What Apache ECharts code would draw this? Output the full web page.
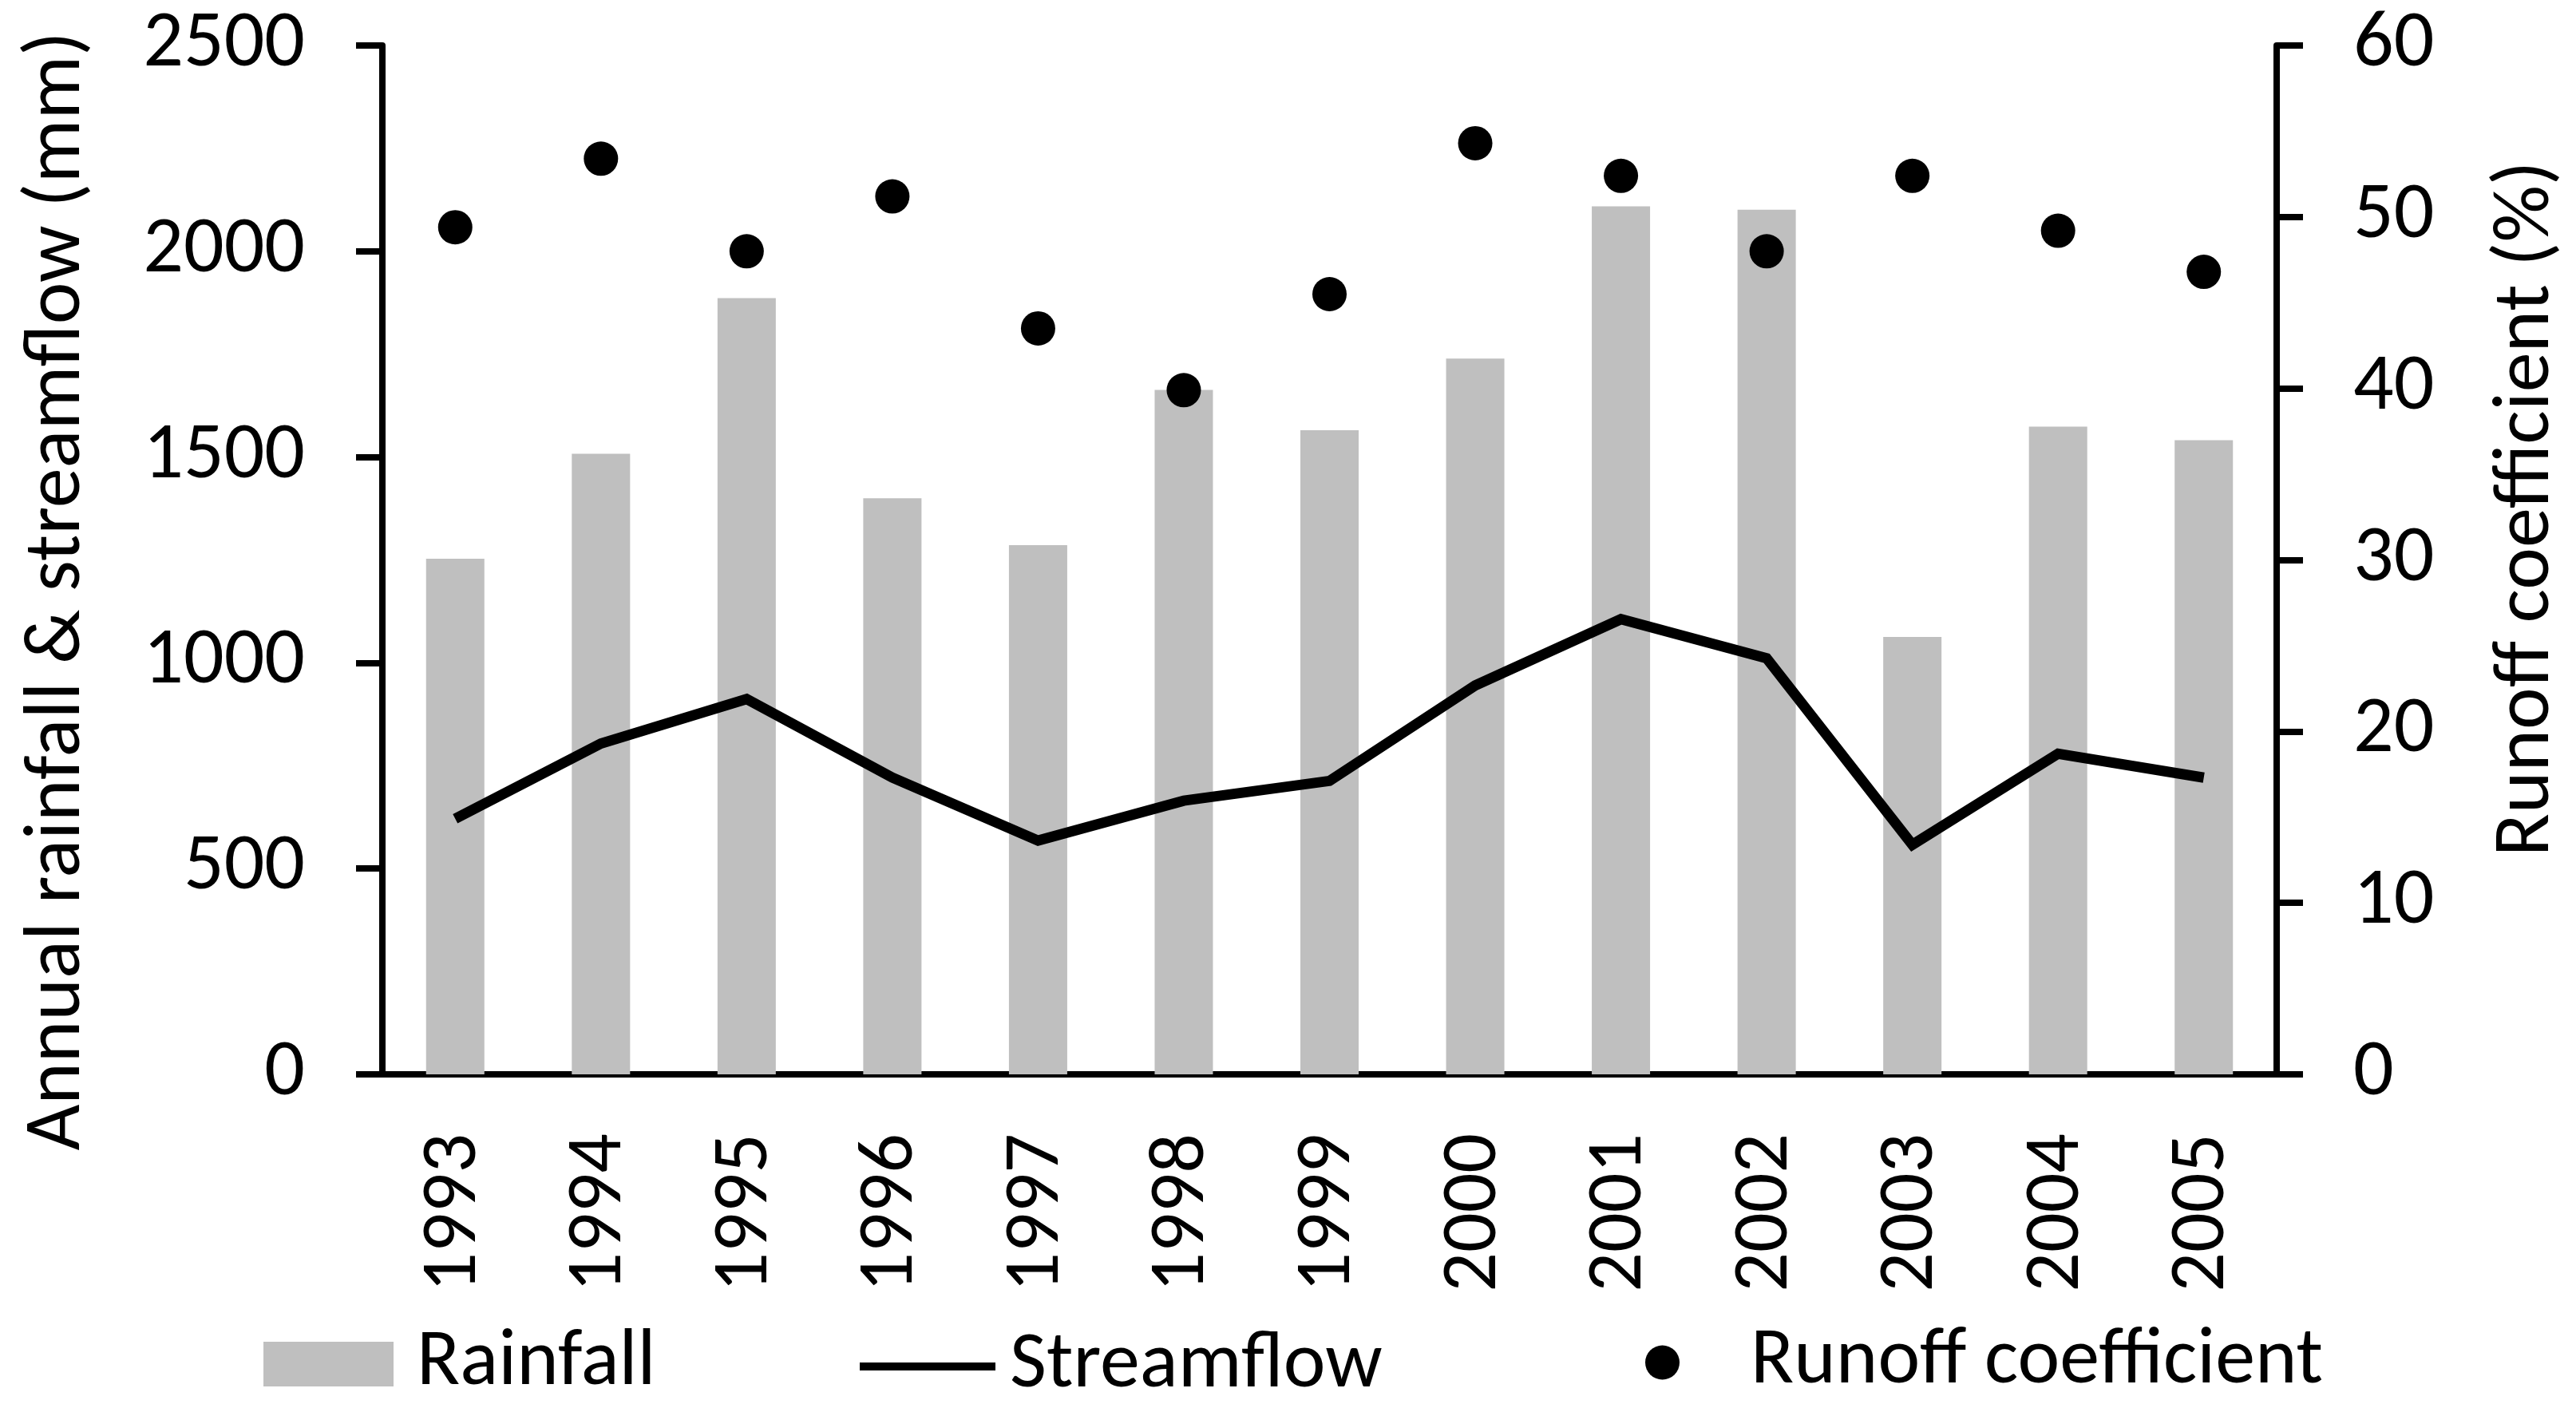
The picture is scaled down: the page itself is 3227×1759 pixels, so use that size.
<!DOCTYPE html>
<html>
<head>
<meta charset="utf-8">
<script src="https://cdn.jsdelivr.net/npm/echarts@6/dist/echarts.min.js"></script>
<style>
html,body{margin:0;padding:0;background:#fff;}
#chart{width:3227px;height:1759px;}
</style>
</head>
<body>
<div id="chart"></div>
<script>
const years = ['1993','1994','1995','1996','1997','1998','1999','2000','2001','2002','2003','2004','2005'];
const rainfall = [1253, 1508, 1886, 1400, 1286, 1663, 1565, 1739, 2109, 2101, 1063, 1574, 1541];
const streamflow = [621, 804, 912, 721, 568, 665, 713, 945, 1106, 1011, 558, 779, 721];
const runoffCoef = [49.4, 53.4, 48.0, 51.2, 43.5, 39.9, 45.5, 54.3, 52.4, 48.0, 52.4, 49.2, 46.8];
const leftTicks = [0, 500, 1000, 1500, 2000, 2500];
const rightTicks = [0, 10, 20, 30, 40, 50, 60];

const FONT = "'Carlito', 'Liberation Sans', Arial, sans-serif";
const chart = echarts.init(document.getElementById('chart'), null, {renderer: 'canvas'});

const axisLine = {show: true, lineStyle: {color: '#000', width: 8}};
const legendText = {fontFamily: FONT, fontSize: 100, lineHeight: 100, color: '#000'};

chart.setOption({
  backgroundColor: '#fff',
  animation: false,
  grid: {left: 479, right: 375, top: 57, bottom: 413, containLabel: false},
  legend: [
    {data: [{name: 'Rainfall', icon: 'rect'}], left: 330, top: 1659, padding: 0, itemWidth: 163, itemHeight: 56,
     textStyle: Object.assign({padding: [0, 0, 0, 24]}, legendText)},
    {data: [{name: 'Streamflow', icon: 'rect', itemStyle: {color: '#000'}}], left: 1077, top: 1662, padding: 0,
     itemWidth: 170, itemHeight: 10,
     textStyle: Object.assign({padding: [0, 0, 0, 13]}, legendText)},
    {data: [{name: 'Runoff coefficient', icon: 'circle'}], left: 2061, top: 1657, padding: 0, itemWidth: 43, itemHeight: 43,
     textStyle: Object.assign({padding: [0, 0, 0, 84]}, legendText)}
  ],
  xAxis: {
    type: 'category',
    data: years,
    axisLine: axisLine,
    axisTick: {show: false},
    axisLabel: {rotate: 90, margin: 74, fontFamily: FONT, fontSize: 98, color: '#000'},
    splitLine: {show: false}
  },
  yAxis: [
    {
      type: 'value', min: leftTicks[0], max: leftTicks[leftTicks.length - 1], interval: 500,
      position: 'left',
      name: 'Annual rainfall & streamflow (mm)',
      nameLocation: 'middle', nameGap: 355,
      nameTextStyle: {fontFamily: FONT, fontSize: 100, color: '#000', padding: [0, 78, 0, 0]},
      axisLine: axisLine,
      axisTick: {show: true, inside: false, length: 33, lineStyle: {color: '#000', width: 8}},
      axisLabel: {margin: 97, fontFamily: FONT, fontSize: 100, color: '#000', formatter: v => String(v)},
      splitLine: {show: false}
    },
    {
      type: 'value', min: rightTicks[0], max: rightTicks[rightTicks.length - 1], interval: 10,
      position: 'right',
      name: 'Runoff coefficient (%)',
      nameLocation: 'middle', nameGap: 265, nameRotate: 90,
      nameTextStyle: {fontFamily: FONT, fontSize: 100, color: '#000', padding: [0, 0, 0, 128]},
      axisLine: axisLine,
      axisTick: {show: true, inside: false, length: 33, lineStyle: {color: '#000', width: 8}},
      axisLabel: {margin: 96, fontFamily: FONT, fontSize: 100, color: '#000', formatter: v => String(v)},
      splitLine: {show: false}
    }
  ],
  series: [
    {
      name: 'Rainfall', type: 'bar', data: rainfall, yAxisIndex: 0,
      barWidth: '40%',
      itemStyle: {color: '#BFBFBF'},
      z: 1
    },
    {
      name: 'Streamflow', type: 'line', data: streamflow, yAxisIndex: 0,
      symbol: 'none', showSymbol: false,
      lineStyle: {color: '#000', width: 13, join: 'miter'},
      itemStyle: {color: '#000'},
      z: 3
    },
    {
      name: 'Runoff coefficient', type: 'scatter', data: runoffCoef, yAxisIndex: 1,
      symbol: 'circle', symbolSize: 43,
      itemStyle: {color: '#000', opacity: 1},
      z: 4
    }
  ]
});
</script>
</body>
</html>
